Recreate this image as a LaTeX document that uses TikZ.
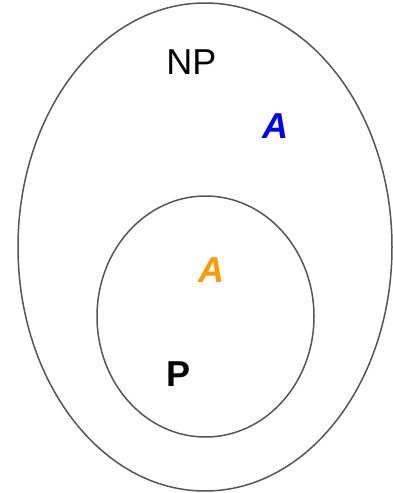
\documentclass[tikz,border=0pt]{standalone}
\usepackage{fontspec}
\setmainfont{Liberation Sans}
\usepackage{tikz}
\usetikzlibrary{positioning}
\definecolor{setline}{HTML}{555555}
\definecolor{setorange}{HTML}{FF9900}
\tikzset{
  setborder/.style={draw=setline, line width=1.5pt},
  setlabel/.style={font=\fontsize{36}{40}\selectfont, inner sep=0pt},
  varlabel/.style={font=\fontsize{36}{40}\selectfont\bfseries\itshape, inner sep=0pt}
}
\begin{document}
\begin{tikzpicture}[x=1pt, y=-1pt]
    \useasboundingbox (0,0) rectangle (393,493);
    % class NP and class P
    \draw[setborder] (205,247) ellipse[x radius=187, y radius=244];
    \draw[setborder] (205.5,316.5) ellipse[x radius=108.5, y radius=120.5];
    % labels
    \node[setlabel] (np) at (191.5,62) {NP};
    \node[varlabel, blue] (anp) at (275.5,126) {A};
    \node[varlabel, setorange] (ap) at (211.5,270) {A};
    \node[setlabel, font=\fontsize{36}{40}\selectfont\bfseries] (p) at (178.5,374) {P};
\end{tikzpicture}
\end{document}
